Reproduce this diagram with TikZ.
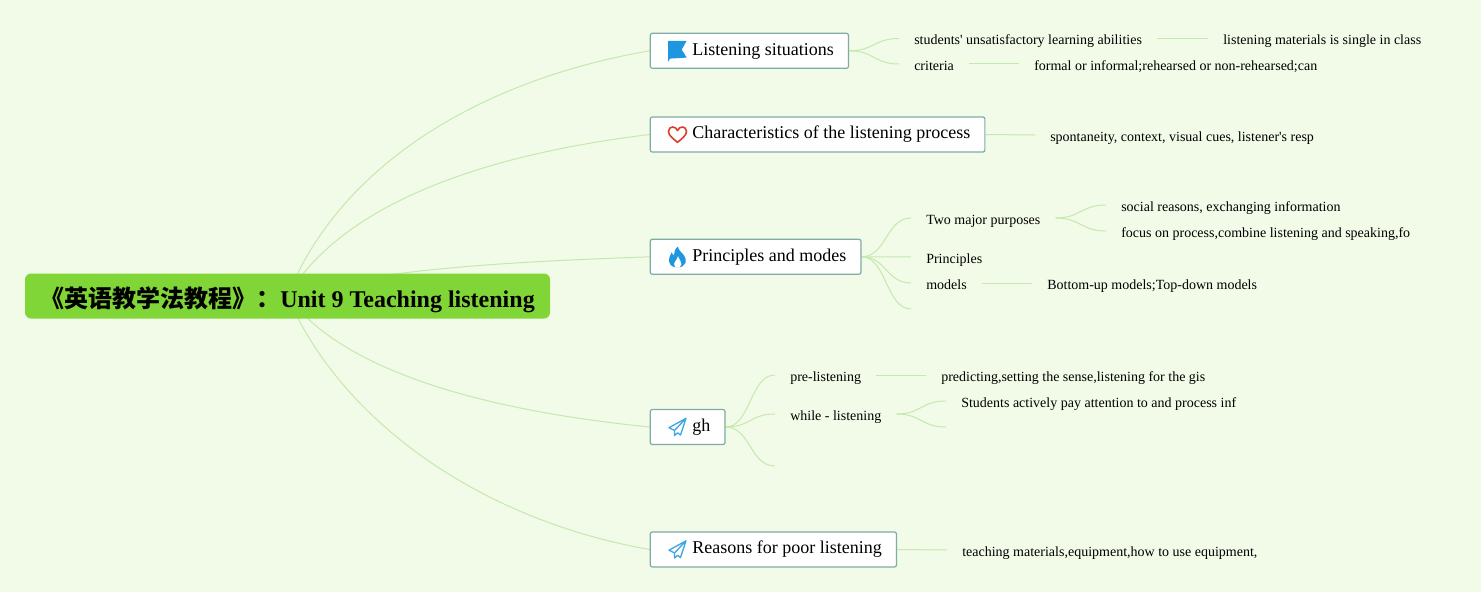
\documentclass[tikz,border=0pt]{standalone}
\usepackage{xcolor}
\usepackage{fontspec}
\setmainfont{Liberation Serif}
\newfontfamily\cjk{Noto Sans CJK SC}
\usetikzlibrary{backgrounds}

\definecolor{pagebg}{HTML}{F2FAE8}
\definecolor{rootgreen}{HTML}{80D636}
\definecolor{linkgreen}{HTML}{C4E9AE}
\definecolor{topicedge}{HTML}{7FADA5}
\definecolor{iconblue}{HTML}{1E96E0}
\definecolor{iconred}{HTML}{D8402C}

\tikzset{
    root/.style={fill=rootgreen, rounded corners=4.5pt, minimum width=393.75pt, minimum height=33.75pt, inner sep=0pt, text height=19pt, text depth=1.2pt, font=\fontsize{18}{20}\selectfont\bfseries},
    topic/.style={draw=topicedge, line width=0.9pt, fill=white, rounded corners=1.5pt, anchor=west, inner xsep=11.5pt, inner ysep=6.75pt, text height=9.6pt, text depth=3.15pt, font=\fontsize{13.5}{15}\selectfont},
    leaf/.style={anchor=west, inner xsep=11.25pt, inner ysep=0pt, text height=10.5pt, text depth=1.5pt, font=\fontsize{10.5}{12}\selectfont},
    link/.style={draw=linkgreen, line width=0.75pt},
    flagicon/.pic={
        \fill[iconblue] (-9.5,-10) -- (9.2,-10) -- (4.2,-1.2) -- (9.2,6.8) -- (-7.5,7.8) -- (-9.5,11) -- cycle;
    },
    hearticon/.pic={
        \draw[iconred, line width=1.2pt, line join=round] (0,7.8) .. controls (-4,4.5) and (-9,1) .. (-9,-3) .. controls (-9,-6) and (-7,-7.5) .. (-5,-7.5) .. controls (-3,-7.5) and (-1,-6.5) .. (0,-4) .. controls (1,-6.5) and (3,-7.5) .. (5,-7.5) .. controls (7,-7.5) and (9,-6) .. (9,-3) .. controls (9,1) and (4,4.5) .. (0,7.8) -- cycle;
    },
    flameicon/.pic={
        \fill[iconblue, even odd rule] (0.5,-10.3) .. controls (1,-6) and (4,-5) .. (6,-2) .. controls (8,1) and (9,3) .. (8,6) .. controls (7,9) and (3.5,10.3) .. (2.5,10.3) -- (-2.5,10.3) .. controls (-4,10.3) and (-7.5,9) .. (-8.3,5) .. controls (-9,1) and (-7,-2) .. (-5.8,-4.5) .. controls (-5,-2.5) and (-4.5,-2) .. (-3.5,-1.5) .. controls (-3.5,-5) and (-2.5,-8) .. (0.5,-10.3) -- cycle
        (0.5,-1) .. controls (0,2) and (-3.5,5) .. (-3.5,7.5) .. controls (-3.5,8.5) and (-3,9.5) .. (-2.5,10.3) -- (2.5,10.3) .. controls (3.5,9.5) and (4,8.5) .. (4,7.5) .. controls (4,5) and (1.5,2) .. (0.5,-1) -- cycle;
    },
    planeicon/.pic={
        \draw[iconblue!85!white, line width=1pt, line join=round] (8.5,-8.7) -- (-8.5,0.7) -- (-3,3.5) -- (-3,8.5) -- (0,5.8) -- (3,8) -- cycle (8.5,-8.7) -- (-3,3.5);
    },
}

\begin{document}
\begin{tikzpicture}[x=0.75pt, y=-0.75pt]
    \useasboundingbox (0,0) rectangle (1481,592);

    \node[root] (root) at (287.5,296) {{\cjk 《英语教学法教程》：}Unit 9 Teaching listening};

    % Main branches with their icons
    \foreach \name/\y/\icon/\txt in {ls/50.8/flagicon/Listening situations, cp/134.5/hearticon/Characteristics of the listening process, pm/256.8/flameicon/Principles and modes, gh/427/planeicon/gh, rp/549.5/planeicon/Reasons for poor listening} {
        \node[topic] (\name) at (649.7,\y) {\hspace*{20pt}\txt\hspace*{-0.5pt}};
        \path (\name.west) ++(27.8,0) pic {\icon};
    }

    % Leaves, x is where the text starts less the margin
    \foreach \name/\x/\y/\txt in {
        stu/899/38.5/{students\textquotesingle{} unsatisfactory learning abilities},
        mat/1208/38.5/{listening materials is single in class},
        cri/899/64/{criteria},
        frm/1019/64/{formal or informal;rehearsed or non-rehearsed;can},
        spo/1035/135/{spontaneity, context, visual cues, listener\textquotesingle{}s resp},
        two/911/218/{Two major purposes},
        soc/1106/205/{social reasons, exchanging information},
        foc/1106/231/{focus on process,combine listening and speaking,fo},
        pri/911/257/{Principles},
        mod/911/283/{models},
        bot/1032/283/{Bottom-up models;Top-down models},
        pre/775/375/{pre-listening},
        pdt/926/375/{predicting,setting the sense,listening for the gis},
        whi/775/414/{while - listening},
        att/946/401/{Students actively pay attention to and process inf},
        tea/947/550/{teaching materials,equipment,how to use equipment,}} {
        \node[leaf] (\name) at (\x,\y) {\txt};
    }

    % Branches with nothing at the end
    \coordinate (pmend) at (911,309);
    \coordinate (ghend) at (775,466);
    \coordinate (whiend) at (946,427);

    \begin{pgfonlayer}{background}
        \fill[pagebg] (0,0) rectangle (1481,592);
        \draw[link] (root.center) .. controls (340,165) and (480,80) .. (ls.west);
        \draw[link] (root.center) .. controls (342,205) and (480,155) .. (cp.west);
        \draw[link] (root.center) .. controls (370,270) and (500,262) .. (pm.west);
        \draw[link] (root.center) .. controls (342,370) and (480,410) .. (gh.west);
        \draw[link] (root.center) .. controls (340,420) and (480,520) .. (rp.west);
        \foreach \a/\b in {ls/stu, ls/cri, stu/mat, cri/frm, cp/spo, pm/two, pm/pri, pm/mod, two/soc, two/foc, mod/bot, gh/pre, gh/whi, pre/pdt, whi/att, rp/tea} {
            \draw[link] (\a.east) .. controls +(25,0) and +(-25,0) .. (\b.west);
        }
        \draw[link] (pm.east) .. controls +(25,0) and +(-25,0) .. (pmend);
        \draw[link] (gh.east) .. controls +(25,0) and +(-25,0) .. (ghend);
        \draw[link] (whi.east) .. controls +(25,0) and +(-25,0) .. (whiend);
    \end{pgfonlayer}
\end{tikzpicture}
\end{document}
